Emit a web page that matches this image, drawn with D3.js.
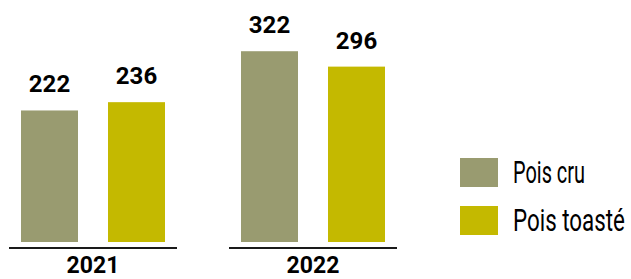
<!DOCTYPE html>
<html><head><meta charset="utf-8">
<script src="https://cdn.jsdelivr.net/npm/d3@7"></script>
<style>html,body{margin:0;padding:0;background:#fff;}svg{display:block;}</style>
</head><body>
<svg id="c" width="631" height="279"></svg>
<script>
const years = ["2021", "2022"];
const series = ["Pois cru", "Pois toasté"];
const poisCru = [222, 322];
const poisToaste = [236, 296];
const colors = ["#999b70", "#c4b900"];

const svg = d3.select("#c");
const x0 = d3.scaleBand().domain(years).range([9, 397]).paddingInner(52/220).paddingOuter(0);
const x1 = d3.scaleBand().domain(series).range([12, 156]).paddingInner(30/87).paddingOuter(0);
const y = d3.scaleLinear().domain([0, 400]).range([242, 5]);
const color = d3.scaleOrdinal().domain(series).range(colors);

const data = years.map((yr, i) => ({year: yr, values: [
  {s: series[0], v: poisCru[i]}, {s: series[1], v: poisToaste[i]}]}));

const g = svg.selectAll("g.grp").data(data).join("g")
  .attr("class", "grp").attr("transform", d => `translate(${x0(d.year)},0)`);

g.selectAll("rect").data(d => d.values).join("rect")
  .attr("x", d => x1(d.s)).attr("width", x1.bandwidth())
  .attr("y", d => y(d.v)).attr("height", d => y(0) - y(d.v))
  .attr("fill", d => color(d.s));

g.selectAll("text.val").data(d => d.values).join("text")
  .attr("class", "val")
  .attr("x", d => x1(d.s) + x1.bandwidth()/2)
  .attr("y", d => y(d.v) - 18)
  .attr("text-anchor", "middle")
  .attr("font-family", "Roboto").attr("font-weight", 700).attr("font-size", 24)
  .attr("fill", "#000").text(d => d.v);

g.append("line").attr("x1", 0).attr("x2", x0.bandwidth())
  .attr("y1", 248).attr("y2", 248).attr("stroke", "#1a1a1a").attr("stroke-width", 2);

g.append("text").attr("x", x0.bandwidth()/2).attr("y", 273)
  .attr("text-anchor", "middle")
  .attr("font-family", "Roboto").attr("font-weight", 700).attr("font-size", 23)
  .attr("fill", "#000").text(d => d.year);

const lg = svg.append("g").selectAll("g").data(series).join("g")
  .attr("transform", (d, i) => `translate(460,${158 + i*48})`);
lg.append("rect").attr("width", 38).attr("height", 29).attr("fill", d => color(d));
lg.append("text")
  .attr("font-family", "Roboto").attr("font-size", 31).attr("fill", "#000")
  .text(d => d)
  .each(function(d, i) {
    const target = i === 0 ? 72 : 112;
    const w = this.getComputedTextLength() || target;
    d3.select(this).attr("transform", `translate(53,25) scale(${target / w},1)`);
  });
</script>
</body></html>
